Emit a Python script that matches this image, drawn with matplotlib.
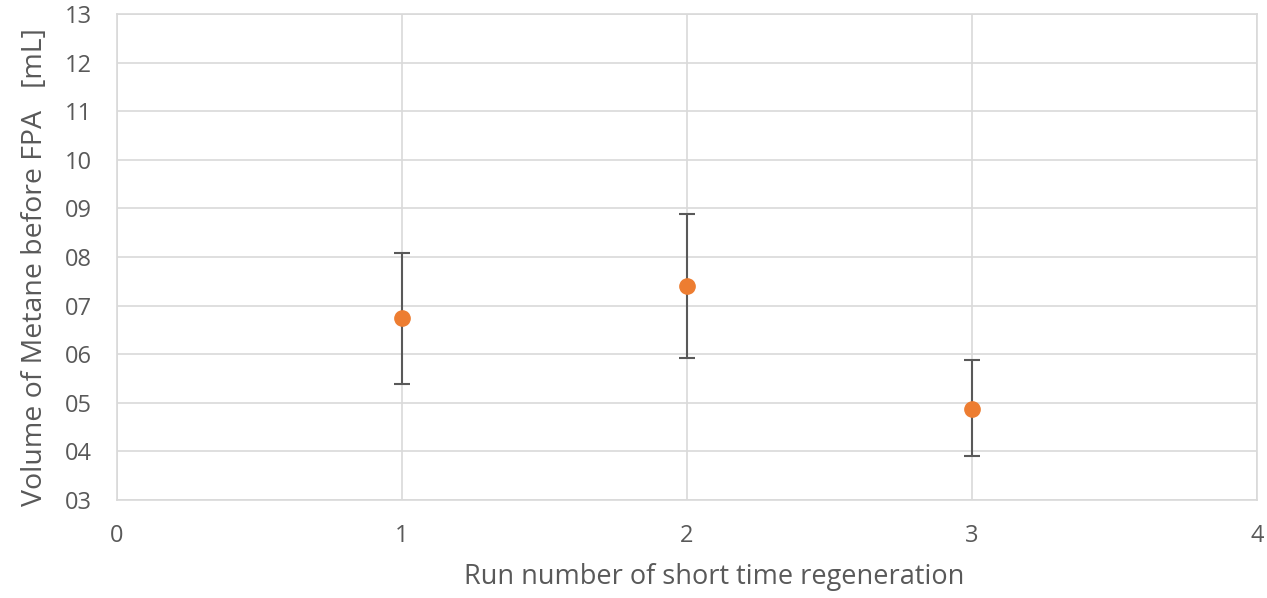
import matplotlib.pyplot as plt
from matplotlib.ticker import FuncFormatter

runs = [1, 2, 3]
volume = [6.75, 7.40, 4.88]
err_low = [1.36, 1.48, 0.97]
err_high = [1.34, 1.48, 1.00]

plt.rcParams['font.family'] = ['Open Sans', 'DejaVu Sans']

fig = plt.figure(figsize=(12.67, 5.98), dpi=100)
ax = fig.add_axes([0.0923, 0.1639, 0.8997, 0.8127])

ax.errorbar(runs, volume, yerr=[err_low, err_high], fmt='o', color='#ED7D31',
            markersize=11, ecolor='#595959', elinewidth=1.5, capsize=6,
            capthick=1.5, zorder=3)

ax.set_xlim(0, 4)
ax.set_ylim(3, 13)
ax.set_xticks(range(0, 5))
ax.set_yticks(range(3, 14))
ax.yaxis.set_major_formatter(FuncFormatter(lambda v, p: "%02d" % v))
ax.grid(True, color='#d9d9d9', linewidth=1.2)
ax.set_axisbelow(True)
for s in ax.spines.values():
    s.set_color('#d9d9d9')
    s.set_linewidth(1.2)
ax.tick_params(length=0, labelsize=17, colors='#595959')
ax.tick_params(axis='x', pad=17)
ax.tick_params(axis='y', pad=18)

ax.set_xlabel("Run number of short time regeneration", fontsize=19.5, color='#595959')
ax.set_ylabel("Volume of Metane before FPA   [mL]", fontsize=20.5, color='#595959')
ax.xaxis.set_label_coords(0.524, -0.13)
ax.yaxis.set_label_coords(-0.060, 0.48)

fig.savefig("out.png", dpi=100)
